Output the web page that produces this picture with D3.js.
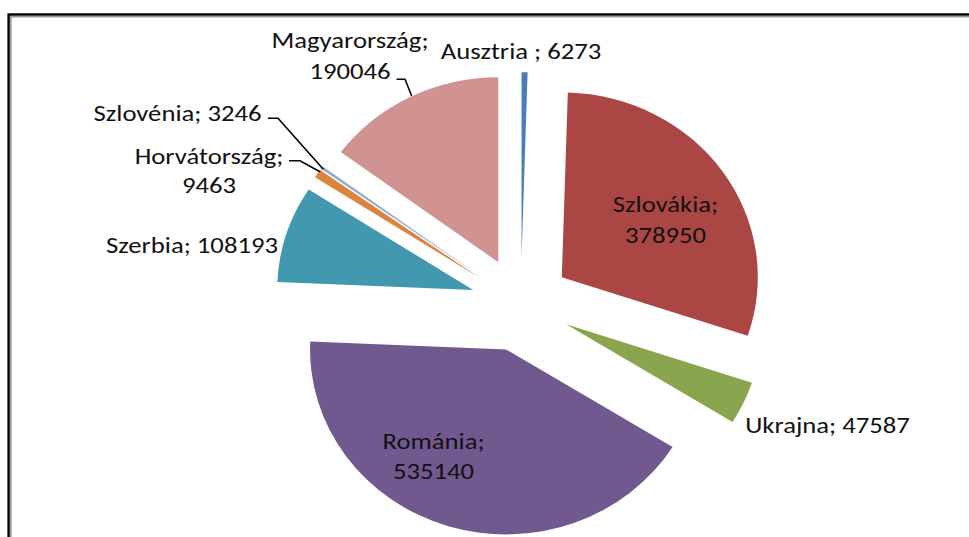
<!DOCTYPE html>
<html><head><meta charset="utf-8">
<script src="https://cdn.jsdelivr.net/npm/d3@7"></script>
<style>html,body{margin:0;padding:0;background:#fff;} svg{display:block}</style>
</head><body>
<svg id="chart" width="969" height="537"></svg>
<script>
// ---- data ----
const categories = ["Ausztria", "Szlovákia", "Ukrajna", "Románia", "Szerbia", "Horvátország", "Szlovénia", "Magyarország"];
const values = [6273, 378950, 47587, 535140, 108193, 9463, 3246, 190046];
const labelTexts = [
  ["Ausztria ; 6273"],
  ["Szlovákia;", "378950"],
  ["Ukrajna; 47587"],
  ["Románia;", "535140"],
  ["Szerbia; 108193"],
  ["Horvátország;", "9463"],
  ["Szlovénia; 3246"],
  ["Magyarország;", "190046"]
];
const colors = ["#4A7EBB", "#AA4643", "#89A54E", "#71588F", "#4198AF", "#DB843D", "#93A9CF", "#D19392"];

// ---- layout (label placement, Excel style) ----
const labelLayout = {
  "Ausztria":     {x: 521, y: [59.3]},
  "Szlovákia":    {x: 665.5, y: [211.7, 242.7]},
  "Ukrajna":      {x: 827.5, y: [433.3]},
  "Románia":      {x: 433.5, y: [449.3, 479.3]},
  "Szerbia":      {x: 192, y: [252.5]},
  "Horvátország": {x: 209, y: [164, 193.3], leader: [[289, 160.7], [300, 160.7], [320, 171.7]]},
  "Szlovénia":    {x: 177.5, y: [120.7], leader: [[268, 118.3], [278, 118.3], [323.3, 169.3]]},
  "Magyarország": {x: 350, y: [48.3, 79], leader: [[396.5, 79.3], [405, 79.3], [411.7, 96]]}
};

const svg = d3.select("#chart");

// frame
svg.append("rect").attr("x", 10.9).attr("y", 16.7).attr("width", 1100).attr("height", 700)
  .attr("fill", "none").attr("stroke", "#9a9a9a").attr("stroke-width", 1.6);
svg.append("rect").attr("x", 8.6).attr("y", 14.5).attr("width", 1100).attr("height", 700)
  .attr("fill", "none").attr("stroke", "#000").attr("stroke-width", 2.4);

// pie geometry
const cx = 520.8, cy = 304.3, R = 185, sx = 196 / 185, explode = 0.255 * R;
const data = categories.map((c, i) => ({cat: c, value: values[i], color: colors[i], lines: labelTexts[i]}));
const pie = d3.pie().sort(null).value(d => d.value);
const arcs = pie(data);
const arc = d3.arc().innerRadius(0).outerRadius(R);

const g = svg.append("g").attr("transform", `translate(${cx},${cy}) scale(${sx},1)`);
g.selectAll("path").data(arcs).join("path")
  .attr("d", arc)
  .attr("fill", d => d.data.color)
  .attr("transform", d => {
    const a = (d.startAngle + d.endAngle) / 2;
    return `translate(${Math.sin(a) * explode},${-Math.cos(a) * explode})`;
  });

// leader lines
const line = d3.line();
data.forEach(d => {
  const L = labelLayout[d.cat];
  if (L.leader) {
    svg.append("path").attr("d", line(L.leader)).attr("fill", "none")
      .attr("stroke", "#000").attr("stroke-width", 1.6);
  }
});

// labels
const fontFamily = "Carlito, Calibri, Lato, 'Open Sans', sans-serif";
const textScale = 1.16;
data.forEach(d => {
  const L = labelLayout[d.cat];
  d.lines.forEach((t, k) => {
    svg.append("text")
      .attr("transform", `translate(${L.x},${L.y[k]}) scale(${textScale},1)`)
      .attr("text-anchor", "middle")
      .attr("font-family", fontFamily)
      .attr("font-size", 23)
      .attr("fill", "#111")
      .text(t);
  });
});
</script>
</body></html>
